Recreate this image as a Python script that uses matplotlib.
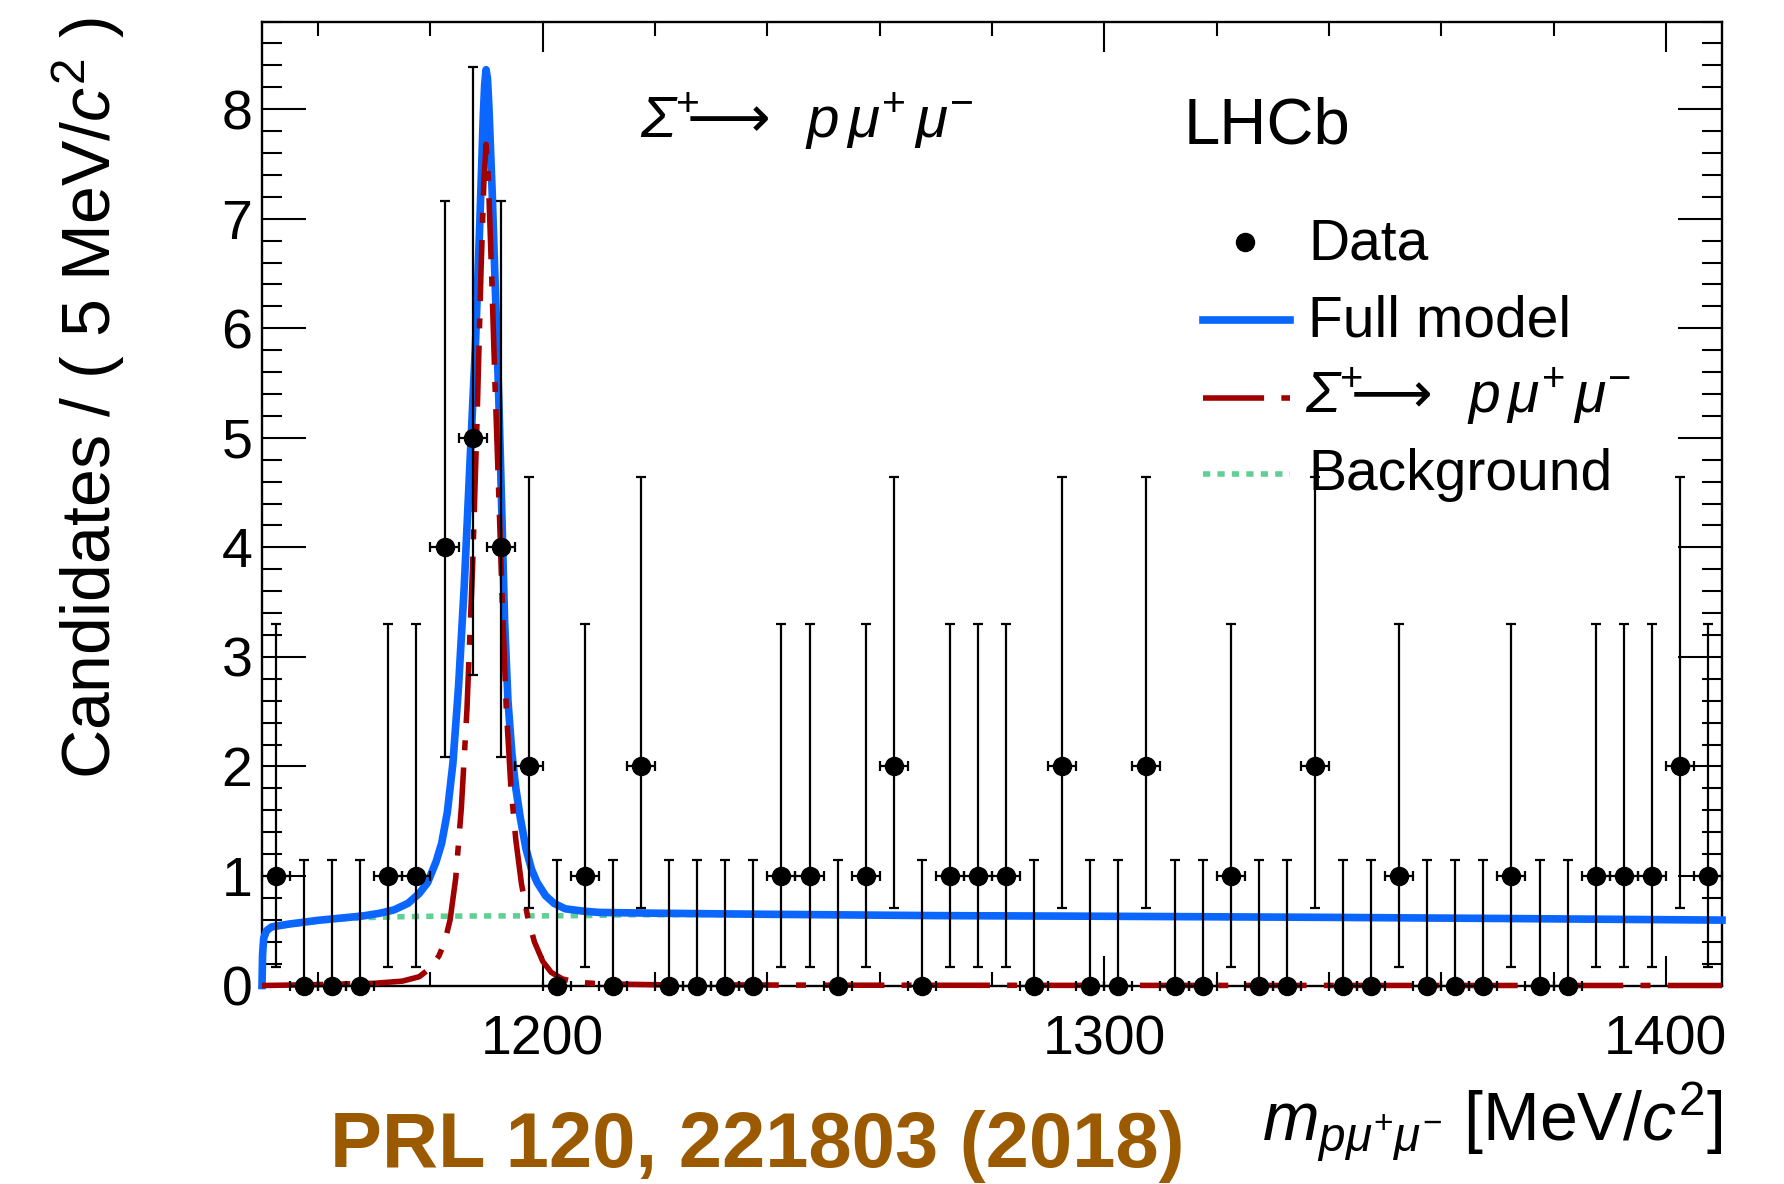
import numpy as np
import matplotlib
matplotlib.use("Agg")
import matplotlib.pyplot as plt
from matplotlib.lines import Line2D
from matplotlib.ticker import MultipleLocator

# ---------------- data ----------------
bin_low_edge = 1150.0
bin_width = 5.0
counts = [1, 0, 0, 0, 1, 1, 4, 5, 4, 2, 0, 1, 0, 2, 0, 0, 0, 0, 1, 1, 0, 1, 2, 0, 1, 1,
          1, 0, 2, 0, 0, 2, 0, 0, 1, 0, 0, 2, 0, 0, 1, 0, 0, 0, 1, 0, 0, 1, 1, 1, 2, 1]
# asymmetric Poisson errors (RooFit convention) per count value
poisson_err_low = {0: 0.0, 1: 0.8274, 2: 1.2918, 4: 1.9149, 5: 2.1611}
poisson_err_high = {0: 1.1479, 1: 2.2996, 2: 2.6379, 4: 3.1627, 5: 3.3817}

# full model curve
full_mass = [1150.0, 1150.1, 1150.3, 1150.8, 1151.7, 1154.7, 1160.0, 1165.0, 1168.0, 1171.0,
             1173.5, 1176.0, 1178.0, 1179.5, 1181.0, 1182.0, 1183.0, 1184.0, 1185.0, 1186.0,
             1187.0, 1188.0, 1188.8, 1189.4, 1189.65, 1189.9, 1190.15, 1190.4, 1191.0, 1191.6,
             1192.2, 1192.7, 1193.2, 1193.8, 1194.5, 1195.2, 1196.0, 1197.0, 1198.0, 1199.0,
             1200.5, 1202.0, 1204.0, 1207.0, 1210.0, 1220.0, 1240.0, 1270.0, 1300.0, 1340.0,
             1370.0, 1410.0]
full_val = [0.0, 0.28, 0.43, 0.50, 0.535, 0.56, 0.595, 0.62, 0.635, 0.66,
            0.69, 0.75, 0.84, 0.94, 1.13, 1.30, 1.58, 2.03, 2.73, 3.63,
            4.73, 5.83, 6.98, 7.93, 8.22, 8.36, 8.28, 8.03, 7.23, 6.28,
            5.30, 4.33, 3.33, 2.60, 2.12, 1.80, 1.53, 1.25, 1.06, 0.94,
            0.82, 0.75, 0.70, 0.68, 0.667, 0.66, 0.65, 0.638, 0.632, 0.622,
            0.612, 0.597]

# signal component
sig_mass = [1150.0, 1160.0, 1170.0, 1175.0, 1178.0, 1180.0, 1181.5, 1182.5, 1183.5, 1184.5,
            1185.5, 1186.5, 1187.5, 1188.3, 1189.0, 1189.5, 1189.9, 1190.3, 1190.9, 1191.5,
            1192.2, 1192.8, 1193.5, 1194.3, 1195.2, 1196.2, 1197.3, 1198.5, 1200.0, 1201.5,
            1203.5, 1206.0, 1210.0, 1220.0, 1250.0, 1300.0, 1410.0]
sig_val = [0.0, 0.008, 0.02, 0.04, 0.08, 0.16, 0.27, 0.39, 0.60, 0.98,
           1.62, 2.52, 3.82, 5.17, 6.52, 7.32, 7.68, 7.38, 6.48, 5.48,
           4.43, 3.48, 2.53, 1.83, 1.33, 0.93, 0.63, 0.40, 0.22, 0.12,
           0.06, 0.03, 0.016, 0.007, 0.003, 0.001, 0.0]

# background component
bkg_mass = [1150.0, 1150.1, 1150.3, 1150.8, 1151.7, 1155.0, 1160.0, 1165.0, 1170.0, 1175.0,
            1180.0, 1190.0, 1200.0, 1207.0, 1215.0, 1230.0, 1270.0, 1300.0, 1340.0, 1370.0,
            1410.0]
bkg_val = [0.0, 0.28, 0.43, 0.50, 0.53, 0.555, 0.59, 0.612, 0.622, 0.628,
           0.632, 0.635, 0.636, 0.638, 0.645, 0.648, 0.634, 0.628, 0.618, 0.608,
           0.593]

x_range = (1150.0, 1410.0)
y_range = (0.0, 8.8)

# ---------------- style ----------------
W, H = 1784, 1184
blue = "#0a66ff"
red = "#a00000"
green = "#60cf94"
brown = "#9b5a00"
red_dash = (0, (11.0, 3.1, 1.8, 3.1))
green_dot = (0, (1.3, 1.3))

plt.rcParams["font.family"] = ["Liberation Sans", "DejaVu Sans"]
plt.rcParams["mathtext.fontset"] = "custom"
plt.rcParams["mathtext.rm"] = "Liberation Sans"
plt.rcParams["mathtext.it"] = "Liberation Sans:italic"
plt.rcParams["mathtext.bf"] = "Liberation Sans:italic"
plt.rcParams["mathtext.sf"] = "DejaVu Sans"


def fx(px):
    return px / W


def fy(py):
    return 1.0 - py / H


fig = plt.figure(figsize=(W / 100, H / 100), dpi=100)
fig.patch.set_facecolor("white")
ax_left, ax_right, ax_top, ax_bottom = 262, 1722, 21.5, 985.5
ax = fig.add_axes([fx(ax_left), fy(ax_bottom), (ax_right - ax_left) / W, (ax_bottom - ax_top) / H])

# curves
ax.plot(bkg_mass, bkg_val, color=green, lw=4.0, linestyle=green_dot, zorder=2, clip_on=False)
ax.plot(full_mass, full_val, color=blue, lw=5.5, zorder=3, clip_on=False, solid_joinstyle="round")
ax.plot(sig_mass, sig_val, color=red, lw=4.0, linestyle=red_dash, zorder=4, clip_on=False)

# data points
centers = bin_low_edge + bin_width * (np.arange(len(counts)) + 0.5)
lo = [poisson_err_low[c] for c in counts]
hi = [poisson_err_high[c] for c in counts]
cont = ax.errorbar(centers, counts, xerr=bin_width / 2, yerr=[lo, hi], fmt="o", color="black",
                   ms=13, elinewidth=1.6, capsize=3.5, capthick=1.6, zorder=5)
for art in cont.get_children():
    art.set_clip_on(False)
    art.set_zorder(5)

ax.set_xlim(*x_range)
ax.set_ylim(*y_range)
ax.xaxis.set_major_locator(MultipleLocator(100))
ax.xaxis.set_minor_locator(MultipleLocator(20))
ax.yaxis.set_major_locator(MultipleLocator(1))
ax.yaxis.set_minor_locator(MultipleLocator(0.2))
ax.tick_params(which="both", direction="in", top=True, right=True, width=1.5, colors="black")
ax.tick_params(axis="x", which="major", length=21.5, pad=21, labelsize=40)
ax.tick_params(axis="x", which="minor", length=10)
ax.tick_params(axis="y", which="major", length=32, pad=7, labelsize=40)
ax.tick_params(axis="y", which="minor", length=14.5)
for s in ax.spines.values():
    s.set_linewidth(1.7)

decay = (r"$\mathbf{\Sigma}^{+}\!\!\!\mathsf{\longrightarrow}\;\;\mathit{p}\,\mathit{\mu}^{+}"
         r"\,\mathit{\mu}^{-}$")

# texts
fig.text(fx(640), fy(137), decay, fontsize=42, ha="left", va="baseline")
fig.text(fx(1184), fy(144), "LHCb", fontsize=47, ha="left", va="baseline")

fig.text(fx(89), fy(17), r"Candidates / ( 5 MeV/$\mathit{c}^{2}$ )", rotation=90,
         ha="center", va="top", fontsize=49)
fig.text(fx(1722), fy(1141), r"$\mathit{m}_{\mathit{p\mu}^{+}\mathit{\mu}^{-}}$ [MeV/$\mathit{c}^{2}$]",
         ha="right", va="baseline", fontsize=49)
fig.text(fx(330), fy(1167), "PRL 120, 221803 (2018)", fontsize=56, fontweight="bold",
         color=brown, ha="left", va="baseline")

# legend (drawn manually)
leg_x0, leg_x1, txt_x = 1203, 1290, 1308
fig.add_artist(Line2D([fx(1245)], [fy(242)], marker="o", ms=13, color="black", linestyle="none"))
fig.add_artist(Line2D([fx(leg_x0), fx(leg_x1)], [fy(320), fy(320)], color=blue, lw=5.5))
fig.add_artist(Line2D([fx(leg_x0), fx(leg_x1)], [fy(397.5), fy(397.5)], color=red, lw=4.0,
                      linestyle=red_dash))
fig.add_artist(Line2D([fx(leg_x0), fx(leg_x1)], [fy(474), fy(474)], color=green, lw=4.0,
                      linestyle=green_dot))
fig.text(fx(txt_x), fy(259.6), "Data", fontsize=41, ha="left", va="baseline")
fig.text(fx(txt_x), fy(336.8), "Full model", fontsize=41, ha="left", va="baseline")
fig.text(fx(txt_x - 3), fy(412), decay, fontsize=41, ha="left", va="baseline")
fig.text(fx(txt_x), fy(489.5), "Background", fontsize=41, ha="left", va="baseline")

fig.savefig("out.png", dpi=100, facecolor="white")
